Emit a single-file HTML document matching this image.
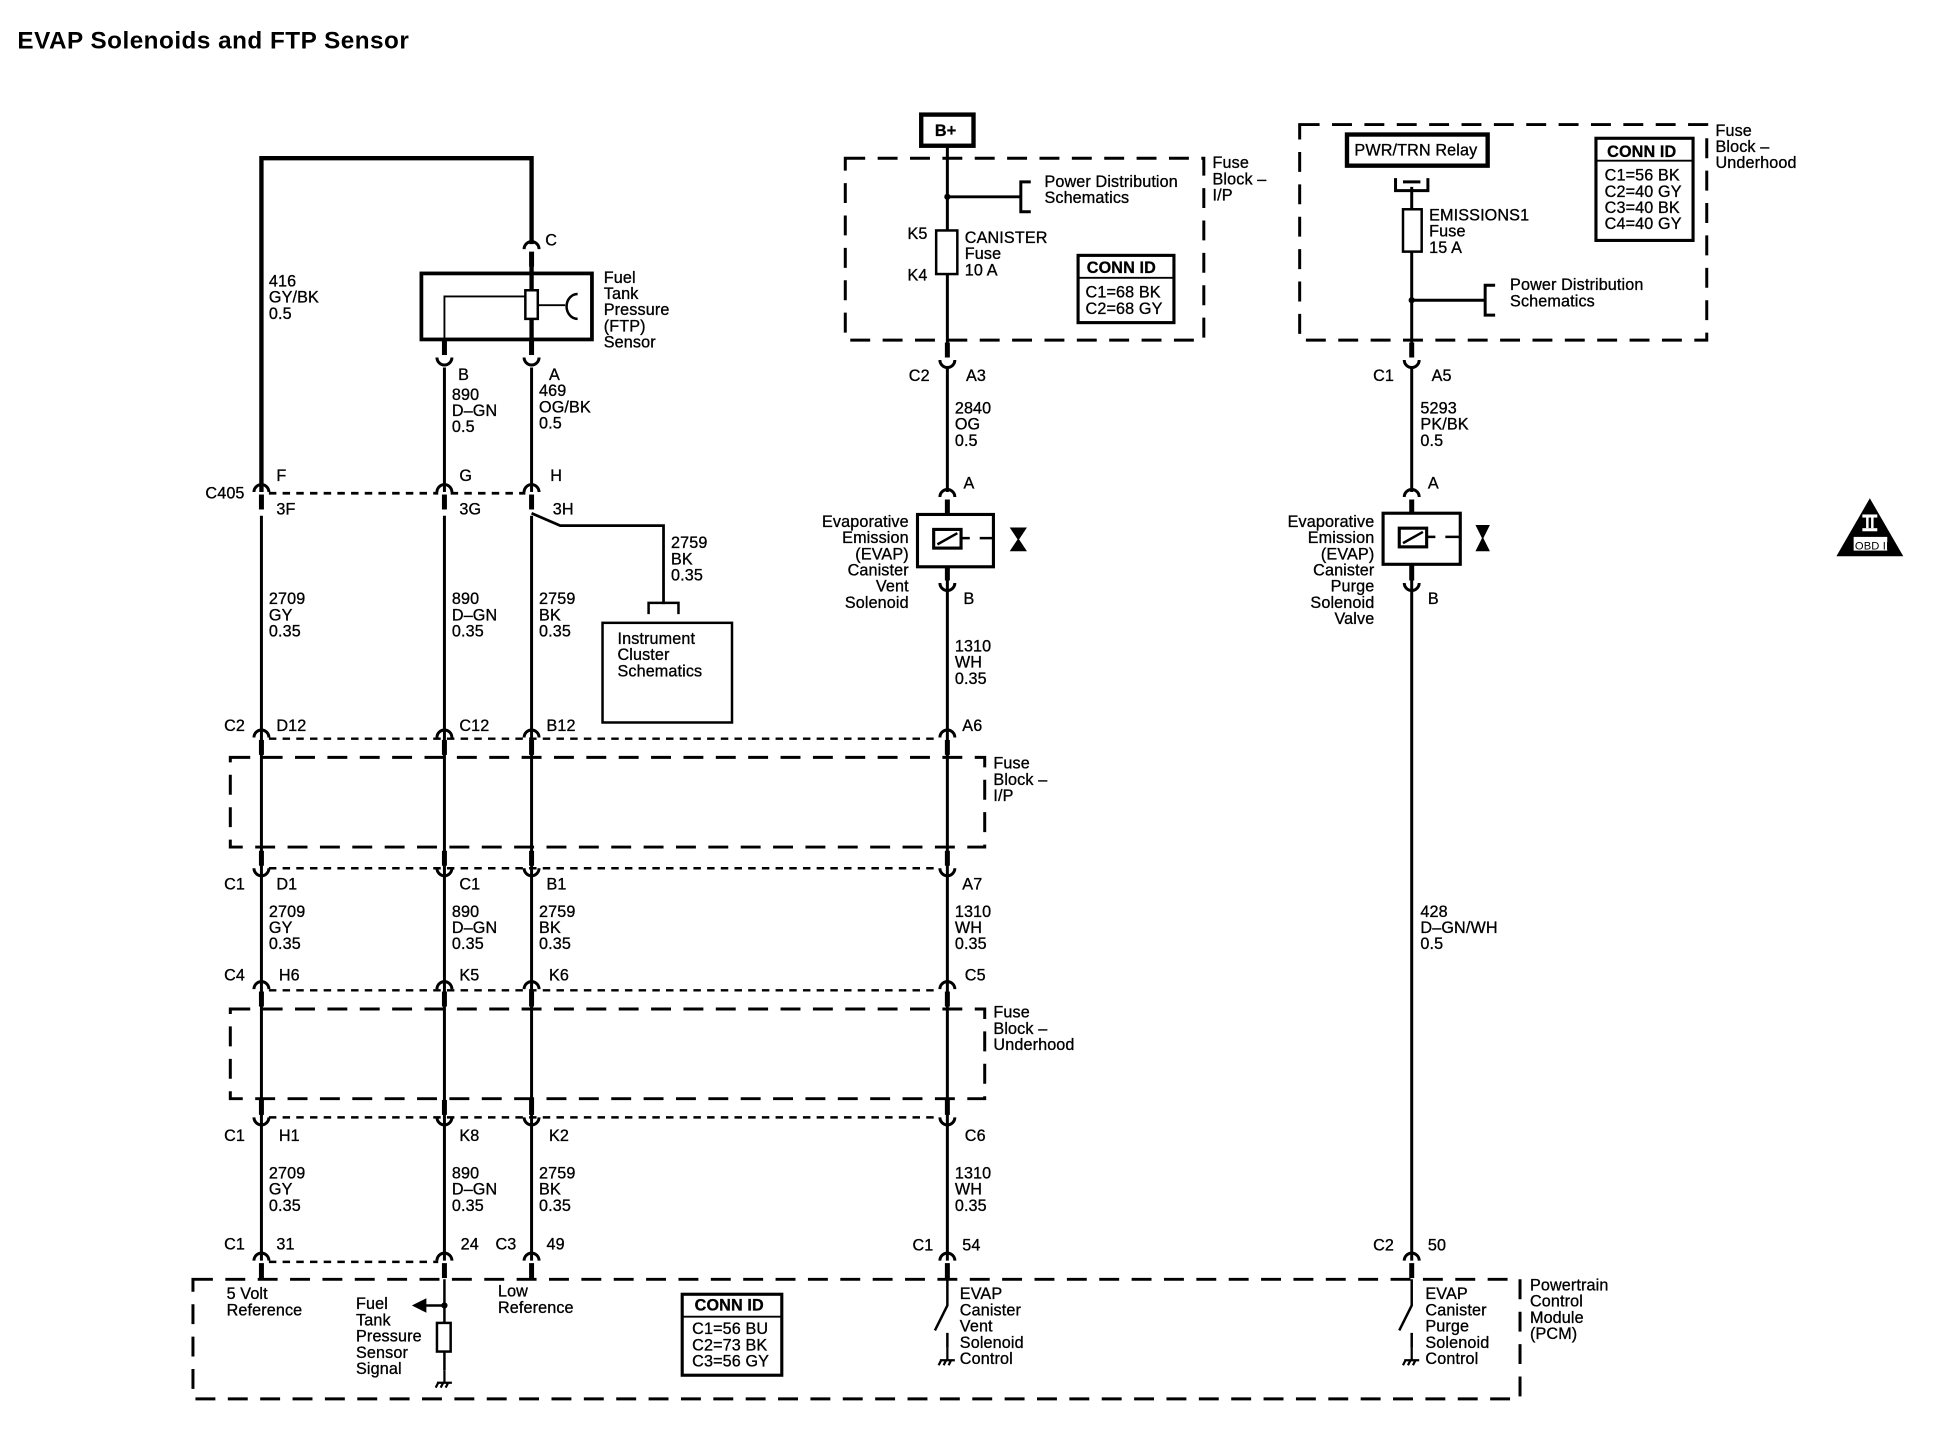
<!DOCTYPE html>
<html><head><meta charset="utf-8"><style>
html,body{margin:0;padding:0;background:#fff;}
svg{display:block}
text{font-family:"Liberation Sans",sans-serif;font-size:13px;fill:#000;stroke:#000;stroke-width:0.25;letter-spacing:0.1px}
.t{font-size:19.5px;font-weight:bold;letter-spacing:0.4px;stroke-width:0}
.c{font-weight:bold}
</style></head><body>
<svg width="1952" height="1440" viewBox="0 0 1568 1156" preserveAspectRatio="none" xmlns="http://www.w3.org/2000/svg">
<defs>
<g id="d"><path d="M-6,3 A6,6 0 0 1 6,3" fill="none" stroke="#000" stroke-width="2.4"/><rect x="-2" y="5" width="4" height="12"/></g>
<g id="u"><path d="M-6,-3 A6,6 0 0 0 6,-3" fill="none" stroke="#000" stroke-width="2.4"/><rect x="-2" y="-17" width="4" height="12"/></g>
<g id="gnd"><path d="M0,0 V10 M-6,10 H6 M-5,10 l-2,4 M-1,10 l-2,4 M3,10 l-2,4" stroke="#000" stroke-width="1.8" fill="none"/></g>
</defs>
<text x="14" y="39" class="t">EVAP Solenoids and FTP Sensor</text>

<g stroke="#000" fill="none">
<path d="M210,395 V127 H427 V196" stroke-width="3.5"/>
<rect x="338.5" y="219.5" width="137" height="53" stroke-width="3"/>
<path d="M427,213 V285 M357,273 V285" stroke-width="3.5"/>
<rect x="422" y="233" width="10" height="23" stroke-width="2" fill="#fff"/>
<path d="M357,273 V238 H422 M432,245 H454" stroke-width="1.5"/>
<path d="M464,236 A8,9 0 0 0 464,256" stroke-width="2"/>
<path d="M357,295 V395 M427,295 V395" stroke-width="2.4"/>
<path d="M210,414 V1012 M357,414 V1012 M427,414 V1012" stroke-width="2.4"/>
<path d="M427,412 L450,422 H533 V485" stroke-width="2.2"/>
<path d="M521,493 V484 H545 V493" stroke-width="2"/>
<rect x="484" y="500" width="104" height="80" stroke-width="2"/>
<path d="M216,396 H352 M362,396 H422" stroke-width="2.2" stroke-dasharray="6,5"/>
<path d="M216,593 H755" stroke-width="2" stroke-dasharray="6,5"/>
<path d="M216,697 H755" stroke-width="2" stroke-dasharray="6,5"/>
<path d="M216,795 H755" stroke-width="2" stroke-dasharray="6,5"/>
<path d="M216,897 H755" stroke-width="2" stroke-dasharray="6,5"/>
<path d="M216,1013 H352" stroke-width="2" stroke-dasharray="6,5"/>
<path d="M185,608 H791 V680 H185 Z" stroke-width="2.4" stroke-dasharray="16,10"/>
<path d="M185,810 H791 V882 H185 Z" stroke-width="2.4" stroke-dasharray="16,10"/>
<path d="M155,1027 H1221 V1123 H155 Z" stroke-width="2.4" stroke-dasharray="16,10"/>
<path d="M761,117 V285 M761,295 V395 M761,458 V1012" stroke-width="2.4"/>
<rect x="740" y="92" width="42" height="25" stroke-width="3.5" fill="#fff"/>
<path d="M679,127 H967 V273 H679 Z" stroke-width="2.4" stroke-dasharray="16,10"/>
<path d="M761,158 H820 M828,146 H820 V170 H828" stroke-width="2.4"/>
<rect x="752" y="185" width="17" height="35" stroke-width="2" fill="#fff"/>
<rect x="866" y="205" width="77" height="54" stroke-width="2.5"/>
<path d="M866,223 H943" stroke-width="1.5"/>
<rect x="737" y="413" width="61" height="42" stroke-width="2.5"/>
<rect x="750" y="425" width="22" height="15" stroke-width="2.5" fill="#fff"/>
<path d="M753,437 L769,428 M772,432 H779 M787,432 H798" stroke-width="2"/>
<path d="M812,424 H824 L812,442 H824 Z" fill="#000" stroke-width="1"/>
<path d="M761,1027 V1048 L751,1068 M761,1070 V1082" stroke-width="2"/>
<path d="M1134,150 V285 M1134,295 V395 M1134,458 V1012" stroke-width="2.4"/>
<rect x="1082" y="108" width="113" height="25" stroke-width="3.5"/>
<path d="M1121,143 V153 H1147 V143 M1127,146 H1141" stroke-width="2.4"/>
<path d="M1044,100 H1371 V273 H1044 Z" stroke-width="2.4" stroke-dasharray="16,10"/>
<rect x="1282" y="111" width="78" height="82" stroke-width="2.5"/>
<path d="M1282,129 H1360" stroke-width="1.5"/>
<rect x="1127" y="168" width="15" height="34" stroke-width="2" fill="#fff"/>
<path d="M1134,241 H1193 M1201,229 H1193 V253 H1201" stroke-width="2.4"/>
<rect x="1111" y="412" width="62" height="41" stroke-width="2.5"/>
<rect x="1124" y="424" width="22" height="15" stroke-width="2.5" fill="#fff"/>
<path d="M1127,436 L1143,427 M1146,431 H1153 M1161,431 H1173" stroke-width="2"/>
<path d="M1186,422 H1196 L1186,442 H1196 Z" fill="#000" stroke-width="1"/>
<path d="M1134,1027 V1048 L1124,1068 M1134,1070 V1082" stroke-width="2"/>
<path d="M357,1027 V1062 M357,1048 H340" stroke-width="2"/>
<path d="M332,1048 l10,-5 v10 z" fill="#000"/>
<rect x="351" y="1062" width="11" height="23" stroke-width="2" fill="#fff"/>
<path d="M357,1085 V1100" stroke-width="2"/>
<rect x="548" y="1039" width="80" height="65" stroke-width="2.5"/>
<path d="M548,1057 H628" stroke-width="1.5"/>
<path d="M1502,401 L1528,446 H1476 Z" fill="#000"/>
</g>
<circle cx="761" cy="158" r="2.5"/><circle cx="1134" cy="241" r="2.5"/><circle cx="357" cy="1048" r="2.5"/>
<rect x="1489" y="431" width="27" height="11" fill="#fff"/>
<rect x="1496" y="413" width="12" height="2.5" fill="#fff"/><rect x="1496" y="424" width="12" height="2.5" fill="#fff"/>
<rect x="1499" y="415" width="2" height="9" fill="#fff"/><rect x="1503" y="415" width="2" height="9" fill="#fff"/>
<text x="1490" y="441" style="font-size:9px;stroke-width:0">OBD II</text>
<use href="#gnd" x="357" y="1100"/><use href="#gnd" x="761" y="1082"/><use href="#gnd" x="1134" y="1082"/>

<use href="#d" x="427" y="197"/>
<use href="#u" x="357" y="290"/><use href="#u" x="427" y="290"/>
<use href="#d" x="210" y="392"/><use href="#d" x="357" y="392"/><use href="#d" x="427" y="392"/>
<use href="#d" x="210" y="589"/><use href="#d" x="357" y="589"/><use href="#d" x="427" y="589"/><use href="#d" x="761" y="589"/>
<use href="#u" x="210" y="700"/><use href="#u" x="357" y="700"/><use href="#u" x="427" y="700"/><use href="#u" x="761" y="700"/>
<use href="#d" x="210" y="791"/><use href="#d" x="357" y="791"/><use href="#d" x="427" y="791"/><use href="#d" x="761" y="791"/>
<use href="#u" x="210" y="900"/><use href="#u" x="357" y="900"/><use href="#u" x="427" y="900"/><use href="#u" x="761" y="900"/>
<use href="#d" x="210" y="1009"/><use href="#d" x="357" y="1009"/><use href="#d" x="427" y="1009"/><use href="#d" x="761" y="1009"/><use href="#d" x="1134" y="1009"/>
<use href="#u" x="761" y="292"/><use href="#u" x="1134" y="292"/>
<use href="#d" x="761" y="396"/><use href="#d" x="1134" y="396"/>
<use href="#u" x="761" y="471"/><use href="#u" x="1134" y="471"/>

<text x="438" y="197">C</text>
<text x="485" y="227">Fuel</text><text x="485" y="240">Tank</text><text x="485" y="253">Pressure</text><text x="485" y="266">(FTP)</text><text x="485" y="279">Sensor</text>
<text x="216" y="230">416</text><text x="216" y="243">GY/BK</text><text x="216" y="256">0.5</text>
<text x="368" y="305">B</text><text x="363" y="321">890</text><text x="363" y="334">D–GN</text><text x="363" y="347">0.5</text>
<text x="441" y="305">A</text><text x="433" y="318">469</text><text x="433" y="331">OG/BK</text><text x="433" y="344">0.5</text>
<text x="165" y="400">C405</text>
<text x="222" y="386">F</text><text x="369" y="386">G</text><text x="442" y="386">H</text>
<text x="222" y="413">3F</text><text x="369" y="413">3G</text><text x="444" y="413">3H</text>
<text x="539" y="440">2759</text><text x="539" y="453">BK</text><text x="539" y="466">0.35</text>
<text x="496" y="517">Instrument</text><text x="496" y="530">Cluster</text><text x="496" y="543">Schematics</text>
<text x="216" y="485">2709</text><text x="216" y="498">GY</text><text x="216" y="511">0.35</text>
<text x="363" y="485">890</text><text x="363" y="498">D–GN</text><text x="363" y="511">0.35</text>
<text x="433" y="485">2759</text><text x="433" y="498">BK</text><text x="433" y="511">0.35</text>
<text x="180" y="587">C2</text><text x="222" y="587">D12</text><text x="369" y="587">C12</text><text x="439" y="587">B12</text><text x="773" y="587">A6</text>
<text x="798" y="617">Fuse</text><text x="798" y="630">Block –</text><text x="798" y="643">I/P</text>
<text x="180" y="714">C1</text><text x="222" y="714">D1</text><text x="369" y="714">C1</text><text x="439" y="714">B1</text><text x="773" y="714">A7</text>
<text x="216" y="736">2709</text><text x="216" y="749">GY</text><text x="216" y="762">0.35</text>
<text x="363" y="736">890</text><text x="363" y="749">D–GN</text><text x="363" y="762">0.35</text>
<text x="433" y="736">2759</text><text x="433" y="749">BK</text><text x="433" y="762">0.35</text>
<text x="767" y="736">1310</text><text x="767" y="749">WH</text><text x="767" y="762">0.35</text>
<text x="180" y="787">C4</text><text x="224" y="787">H6</text><text x="369" y="787">K5</text><text x="441" y="787">K6</text><text x="775" y="787">C5</text>
<text x="798" y="817">Fuse</text><text x="798" y="830">Block –</text><text x="798" y="843">Underhood</text>
<text x="180" y="916">C1</text><text x="224" y="916">H1</text><text x="369" y="916">K8</text><text x="441" y="916">K2</text><text x="775" y="916">C6</text>
<text x="216" y="946">2709</text><text x="216" y="959">GY</text><text x="216" y="972">0.35</text>
<text x="363" y="946">890</text><text x="363" y="959">D–GN</text><text x="363" y="972">0.35</text>
<text x="433" y="946">2759</text><text x="433" y="959">BK</text><text x="433" y="972">0.35</text>
<text x="767" y="946">1310</text><text x="767" y="959">WH</text><text x="767" y="972">0.35</text>
<text x="180" y="1003">C1</text><text x="222" y="1003">31</text><text x="370" y="1003">24</text><text x="398" y="1003">C3</text><text x="439" y="1003">49</text><text x="733" y="1004">C1</text><text x="773" y="1004">54</text>
<text x="1103" y="1004">C2</text><text x="1147" y="1004">50</text>
<text x="182" y="1043">5 Volt</text><text x="182" y="1056">Reference</text>
<text x="286" y="1051">Fuel</text><text x="286" y="1064">Tank</text><text x="286" y="1077">Pressure</text><text x="286" y="1090">Sensor</text><text x="286" y="1103">Signal</text>
<text x="400" y="1041">Low</text><text x="400" y="1054">Reference</text>
<text x="558" y="1052" class="c">CONN ID</text><text x="556" y="1071">C1=56 BU</text><text x="556" y="1084">C2=73 BK</text><text x="556" y="1097">C3=56 GY</text>
<text x="771" y="1043">EVAP</text><text x="771" y="1056">Canister</text><text x="771" y="1069">Vent</text><text x="771" y="1082">Solenoid</text><text x="771" y="1095">Control</text>
<text x="1145" y="1043">EVAP</text><text x="1145" y="1056">Canister</text><text x="1145" y="1069">Purge</text><text x="1145" y="1082">Solenoid</text><text x="1145" y="1095">Control</text>
<text x="1229" y="1036">Powertrain</text><text x="1229" y="1049">Control</text><text x="1229" y="1062">Module</text><text x="1229" y="1075">(PCM)</text>
<text x="751" y="109" class="c">B+</text>
<text x="839" y="150">Power Distribution</text><text x="839" y="163">Schematics</text>
<text x="974" y="135">Fuse</text><text x="974" y="148">Block –</text><text x="974" y="161">I/P</text>
<text x="729" y="192">K5</text><text x="729" y="225">K4</text>
<text x="775" y="195">CANISTER</text><text x="775" y="208">Fuse</text><text x="775" y="221">10 A</text>
<text x="873" y="219" class="c">CONN ID</text><text x="872" y="239">C1=68 BK</text><text x="872" y="252">C2=68 GY</text>
<text x="730" y="306">C2</text><text x="776" y="306">A3</text>
<text x="767" y="332">2840</text><text x="767" y="345">OG</text><text x="767" y="358">0.5</text>
<text x="774" y="392">A</text><text x="774" y="485">B</text>
<g text-anchor="end"><text x="730" y="423">Evaporative</text><text x="730" y="436">Emission</text><text x="730" y="449">(EVAP)</text><text x="730" y="462">Canister</text><text x="730" y="475">Vent</text><text x="730" y="488">Solenoid</text>
<text x="1104" y="423">Evaporative</text><text x="1104" y="436">Emission</text><text x="1104" y="449">(EVAP)</text><text x="1104" y="462">Canister</text><text x="1104" y="475">Purge</text><text x="1104" y="488">Solenoid</text><text x="1104" y="501">Valve</text></g>
<text x="767" y="523">1310</text><text x="767" y="536">WH</text><text x="767" y="549">0.35</text>
<text x="1088" y="125">PWR/TRN Relay</text>
<text x="1378" y="109">Fuse</text><text x="1378" y="122">Block –</text><text x="1378" y="135">Underhood</text>
<text x="1291" y="126" class="c">CONN ID</text><text x="1289" y="145">C1=56 BK</text><text x="1289" y="158">C2=40 GY</text><text x="1289" y="171">C3=40 BK</text><text x="1289" y="184">C4=40 GY</text>
<text x="1148" y="177">EMISSIONS1</text><text x="1148" y="190">Fuse</text><text x="1148" y="203">15 A</text>
<text x="1213" y="233">Power Distribution</text><text x="1213" y="246">Schematics</text>
<text x="1103" y="306">C1</text><text x="1150" y="306">A5</text>
<text x="1141" y="332">5293</text><text x="1141" y="345">PK/BK</text><text x="1141" y="358">0.5</text>
<text x="1147" y="392">A</text><text x="1147" y="485">B</text>
<text x="1141" y="736">428</text><text x="1141" y="749">D–GN/WH</text><text x="1141" y="762">0.5</text>
</svg>
</body></html>
